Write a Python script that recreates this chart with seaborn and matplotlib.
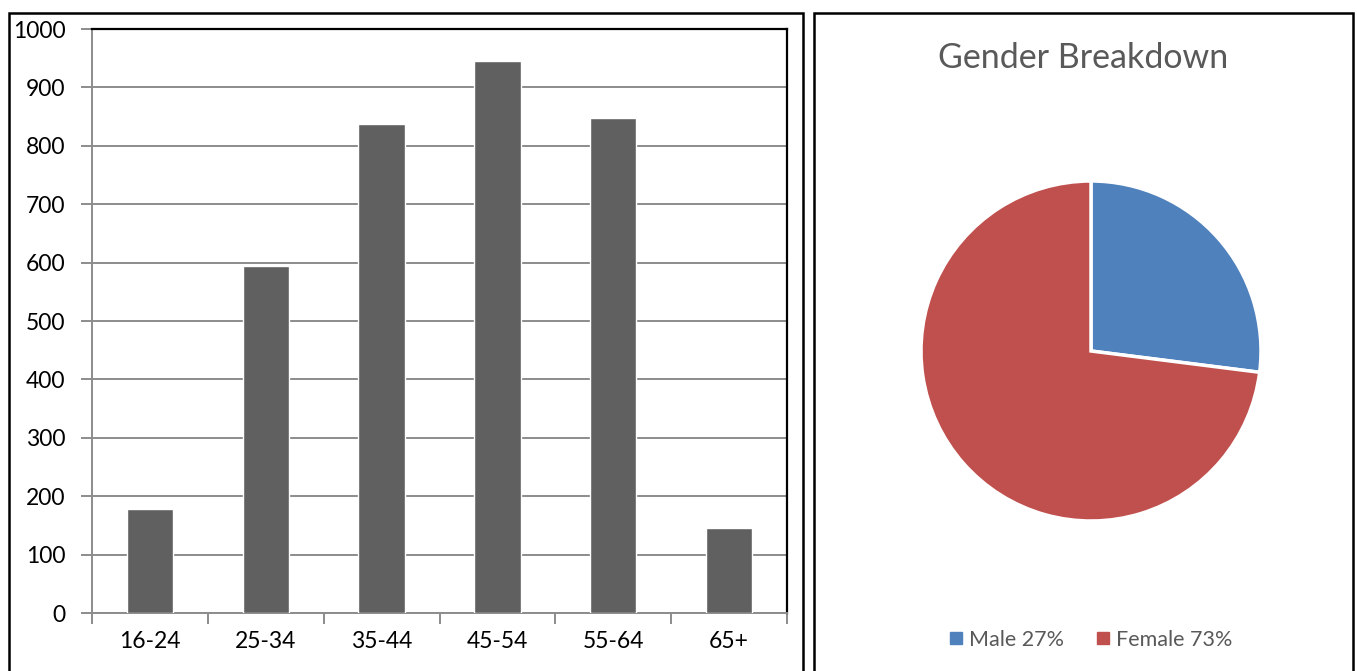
import matplotlib
matplotlib.use("Agg")
import matplotlib.pyplot as plt
from matplotlib.patches import Rectangle
from matplotlib.lines import Line2D
import seaborn as sns
import pandas as pd

# Age distribution
age_groups = ["16-24", "25-34", "35-44", "45-54", "55-64", "65+"]
age_counts = [178, 595, 838, 945, 847, 146]

# Gender split
genders = ["Male", "Female"]
gender_share = [27, 73]
gender_colors = ["#4F81BD", "#C0504D"]

sns.set_theme(style="white")
plt.rcParams["font.family"] = ["Lato", "DejaVu Sans"]

W, H = 1357, 671
fig = plt.figure(figsize=(W / 100, H / 100), dpi=100)

def fx(px):
    return px / W

def fy(py):
    return 1 - py / H

# Panel frames
for x0, x1 in [(9, 803), (814, 1353)]:
    fig.patches.append(Rectangle((fx(x0), fy(680)), fx(x1 - x0), (680 - 13) / H,
                                 transform=fig.transFigure, fill=False,
                                 edgecolor="black", linewidth=1.8, zorder=5))

# Bar chart
ax = fig.add_axes([fx(92), fy(613), fx(787 - 92), (613 - 29) / H])
df = pd.DataFrame({"age": age_groups, "count": age_counts})
sns.barplot(data=df, x="age", y="count", color="#606060", width=0.4,
            saturation=1, ax=ax, zorder=3)
ax.set_xlim(-0.5, len(age_groups) - 0.5)
ax.set_ylim(0, 1000)
ax.set_yticks(range(0, 1001, 100))
ax.set_xlabel("")
ax.set_ylabel("")
ax.yaxis.grid(True, color="#8C8C8C", linewidth=1.4, zorder=0)
ax.set_axisbelow(True)
ax.set_xticks([i - 0.5 for i in range(len(age_groups) + 1)], minor=True)
ax.tick_params(axis="x", which="major", length=0, pad=13, labelsize=16.5, labelcolor="black")
ax.tick_params(axis="x", which="minor", length=8, width=1.4, color="#8C8C8C", bottom=True)
ax.tick_params(axis="y", length=8, width=1.4, color="#8C8C8C", left=True, pad=11,
               labelsize=16.5, labelcolor="black")
for side in ["left", "bottom"]:
    ax.spines[side].set_color("#8C8C8C")
    ax.spines[side].set_linewidth(1.4)
for side in ["top", "right"]:
    ax.spines[side].set_visible(True)
    ax.spines[side].set_color("black")
    ax.spines[side].set_linewidth(1.6)

# Pie chart
pax = fig.add_axes([fx(921), fy(521), fx(340), 340 / H])
pax.pie(gender_share, colors=gender_colors, startangle=90, counterclock=False,
        wedgeprops=dict(edgecolor="white", linewidth=2.5))
pax.set_xlim(-1, 1)
pax.set_ylim(-1, 1)
pax.set_aspect("equal")
pax.axis("off")

fig.text(fx(1083), fy(58), "Gender Breakdown", ha="center", va="center",
         fontsize=24.5, color="#595959")

handles = [Line2D([], [], marker="s", linestyle="none", markersize=8,
                  markerfacecolor=c, markeredgecolor=c) for c in gender_colors]
labels = [f"{g} {s}%" for g, s in zip(genders, gender_share)]
fig.legend(handles, labels, loc="center", bbox_to_anchor=(fx(1090), fy(640)),
           ncol=2, frameon=False, fontsize=15.5, labelcolor="#595959",
           handletextpad=0.2, columnspacing=1.4, handlelength=0.8)

fig.savefig("out.png", dpi=100)
